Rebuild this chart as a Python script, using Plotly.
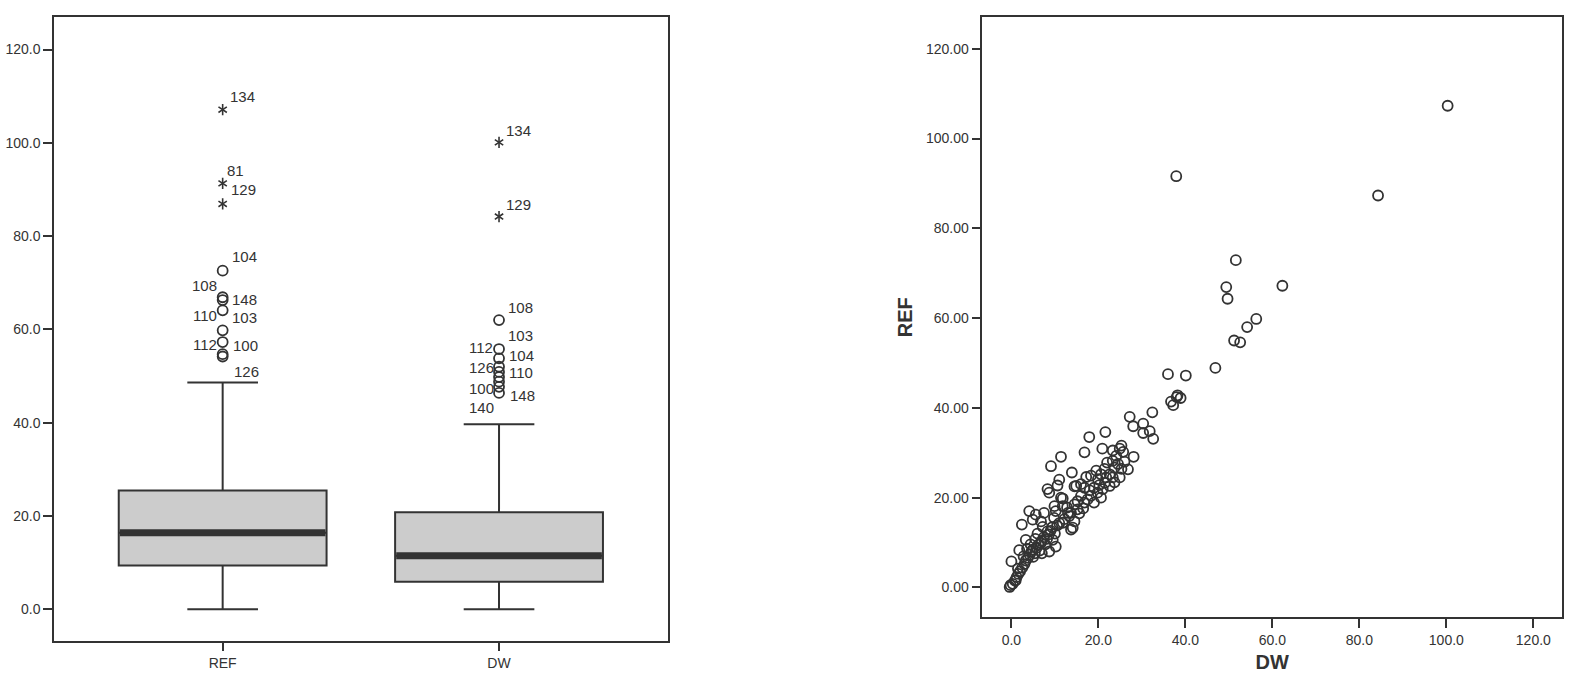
import plotly.graph_objects as go

# box plot summary
box_names = ["REF", "DW"]
box_q1 = [9.4, 5.9]
box_median = [16.4, 11.5]
box_q3 = [25.5, 20.8]
box_low = [0.0, 0.0]
box_high = [48.6, 39.7]

# outliers (circles) and extremes (stars) with case numbers
ref_out_vals = [72.6, 66.9, 66.3, 64.1, 59.8, 57.3, 54.7, 54.2]
ref_out_ids = ["104", "108", "148", "110", "103", "112", "100", "126"]
ref_ext_vals = [107.1, 91.3, 86.9]
ref_ext_ids = ["134", "81", "129"]
dw_out_vals = [62.0, 55.8, 53.8, 52.0, 50.9, 49.8, 48.8, 47.7, 46.4]
dw_out_ids = ["108", "103", "112", "104", "126", "110", "100", "148", "140"]
dw_ext_vals = [100.1, 84.2]
dw_ext_ids = ["134", "129"]

# scatter DW vs REF
dw_vals = [100.3, 84.3, 37.9, 51.6, 62.3, 49.4, 49.7, 56.3, 54.2, 51.2,
           52.6, 46.9, 36.0, 40.1, 38.2, 38.9, 36.7, 37.2, 38.0, 32.4,
           27.2, 28.0, 30.3, 30.3, 31.8, 32.6, 28.1, 21.6, 17.9, 16.8,
           20.9, 23.3, 25.3, 24.9, 25.7, 24.1, 23.3, 11.4, 9.1, 13.9,
           11.0, 10.6, 8.7, 11.8, 14.5, 16.0, 16.8, 18.3, 19.5, 20.6,
           19.9, 21.8, 21.4, 22.6, 23.3, 22.6, 23.7, 24.9, 25.3, 24.5,
           23.7, 19.0, 19.8, 18.3, 20.6, 19.0, 21.0, 16.0, 16.8, 15.2,
           14.5, 11.4, 11.8, 9.9, 8.3, 14.9, 10.2, 13.7, 15.2, 4.1,
           5.6, 7.5, 6.8, 4.9, 2.4, 3.3, 1.8, 0.0, 1.0, -0.2,
           -0.4, 8.3, 9.5, 10.2, 8.7, 13.7, 11.8, 14.5, 13.0, 14.1,
           13.3, 11.0, 7.0, 6.8, 4.9, 0.3, 0.8, 1.2, 1.6, 2.0,
           2.5, 3.0, 3.3, 3.8, 4.2, 4.6, 5.0, 5.4, 5.8, 6.2,
           6.5, 7.0, 7.5, 7.8, 8.2, 8.6, 9.0, 9.4, 10.0, 10.5,
           5.5, 6.0, 4.4, 3.6, 2.8, 1.5, 12.2, 12.8, 15.6, 16.5,
           17.5, 18.0, 21.5, 20.2, 22.0, 26.0, 26.8, 17.2, 9.8, 7.2]
ref_vals = [107.3, 87.3, 91.6, 72.9, 67.2, 66.9, 64.3, 59.8, 58.0, 55.0,
            54.6, 48.9, 47.5, 47.2, 42.8, 42.2, 41.4, 40.6, 42.4, 39.0,
            38.0, 35.9, 36.5, 34.4, 34.8, 33.1, 29.1, 34.6, 33.5, 30.1,
            30.9, 30.5, 31.6, 30.9, 30.2, 29.3, 28.2, 29.1, 27.0, 25.6,
            24.0, 22.7, 21.1, 19.8, 22.5, 23.0, 22.2, 24.9, 26.0, 25.2,
            24.1, 24.5, 26.4, 25.2, 24.5, 22.6, 23.4, 24.5, 26.4, 27.5,
            26.7, 22.2, 21.1, 20.4, 20.0, 18.9, 21.9, 20.4, 18.9, 19.2,
            18.5, 20.0, 18.1, 18.1, 21.9, 22.6, 17.0, 16.6, 17.4, 17.0,
            16.2, 16.6, 14.7, 15.1, 14.0, 10.6, 8.3, 5.8, 1.6, 0.5,
            0.1, 12.5, 10.6, 9.1, 8.0, 12.9, 14.4, 14.7, 16.6, 13.3,
            15.9, 14.3, 7.6, 9.9, 8.4, 0.8, 1.5, 2.3, 3.0, 3.6,
            4.4, 5.2, 6.0, 6.6, 7.3, 8.0, 6.8, 7.6, 8.8, 9.5,
            8.2, 10.4, 11.2, 9.6, 10.8, 11.8, 12.6, 13.4, 12.0, 13.8,
            10.8, 12.0, 9.6, 8.6, 6.9, 4.2, 15.2, 17.8, 16.5, 17.6,
            19.6, 21.6, 23.3, 22.8, 27.8, 28.0, 26.3, 24.6, 15.5, 13.5]

ink = "#333333"
font_name = "Liberation Sans, Arial, sans-serif"
box_w = 0.752

# label offsets in pixels (dx, dy up), as placed in the original
ref_out_off = [(22, 14), (-18, 12), (22, 1), (-18, -5), (22, 13), (-18, -2), (23, 9), (24, -15)]
ref_ext_off = [(20, 13), (13, 13), (21, 14)]
dw_out_off = [(21, 13), (21, 14), (-18, 11), (22, 11), (-18, 4), (22, 5), (-18, -7), (23, -9), (-18, -15)]
dw_ext_off = [(19, 12), (19, 12)]

fig = go.Figure()

for i, name in enumerate(box_names):
    fig.add_trace(go.Box(
        x=[i], q1=[box_q1[i]], median=[box_median[i]], q3=[box_q3[i]],
        lowerfence=[box_low[i]], upperfence=[box_high[i]],
        width=box_w, whiskerwidth=0.34, boxpoints=False,
        fillcolor="#cccccc", line=dict(color=ink, width=2),
        xaxis="x", yaxis="y", showlegend=False, hoverinfo="skip"))
    # thick median bar like SPSS
    fig.add_trace(go.Scatter(
        x=[i - box_w / 2 + 0.004, i + box_w / 2 - 0.004], y=[box_median[i]] * 2,
        mode="lines", line=dict(color=ink, width=7),
        xaxis="x", yaxis="y", showlegend=False, hoverinfo="skip"))

groups = [
    (0, ref_out_vals, ref_out_ids, ref_out_off, False),
    (0, ref_ext_vals, ref_ext_ids, ref_ext_off, True),
    (1, dw_out_vals, dw_out_ids, dw_out_off, False),
    (1, dw_ext_vals, dw_ext_ids, dw_ext_off, True),
]
for pos, vals, ids, offs, extreme in groups:
    xs = [pos] * len(vals)
    if extreme:
        for sym in ["y-up-open", "y-down-open"]:
            fig.add_trace(go.Scatter(
                x=xs, y=vals, mode="markers",
                marker=dict(symbol=sym, size=7, color=ink, line=dict(color=ink, width=1.6)),
                xaxis="x", yaxis="y", showlegend=False, hoverinfo="skip"))
    else:
        fig.add_trace(go.Scatter(
            x=xs, y=vals, mode="markers",
            marker=dict(symbol="circle-open", size=10, color=ink, line=dict(color=ink, width=1.8)),
            xaxis="x", yaxis="y", showlegend=False, hoverinfo="skip"))
    for v, t, (dx, dy) in zip(vals, ids, offs):
        fig.add_annotation(x=pos, y=v, xref="x", yref="y", text=t, showarrow=False,
                           xshift=dx, yshift=dy, font=dict(size=15, color=ink, family=font_name))

fig.add_trace(go.Scatter(
    x=dw_vals, y=ref_vals, mode="markers",
    marker=dict(symbol="circle-open", size=10, color=ink, line=dict(color=ink, width=1.8)),
    xaxis="x2", yaxis="y2", showlegend=False, hoverinfo="skip"))

axis_common = dict(showline=True, mirror=True, linecolor=ink, linewidth=1.5,
                   showgrid=False, zeroline=False, ticks="outside", ticklen=9,
                   tickwidth=1.5, tickcolor=ink,
                   tickfont=dict(size=14, color=ink, family=font_name))

fig.update_layout(
    width=1581, height=687,
    margin=dict(l=0, r=0, t=0, b=0),
    paper_bgcolor="white", plot_bgcolor="white",
    font=dict(family=font_name, color=ink),
    xaxis=dict(domain=[0.0342, 0.4228], range=[-0.61, 1.613],
               tickmode="array", tickvals=[0, 1], ticktext=box_names, **axis_common),
    yaxis=dict(domain=[0.0675, 0.9748], range=[-6.7, 126.9],
               tickmode="array", tickvals=[0, 20, 40, 60, 80, 100, 120],
               tickformat=".1f", **axis_common),
    xaxis2=dict(domain=[0.6213, 0.988], range=[-6.7, 126.6], anchor="y2",
                tickmode="array", tickvals=[0, 20, 40, 60, 80, 100, 120],
                tickformat=".1f",
                title=dict(text="<b>DW</b>", font=dict(size=20, color=ink, family=font_name), standoff=8),
                **axis_common),
    yaxis2=dict(domain=[0.1015, 0.9748], range=[-6.65, 127.0], anchor="x2",
                tickmode="array", tickvals=[0, 20, 40, 60, 80, 100, 120],
                tickformat=".2f",
                title=dict(text="<b>REF</b>", font=dict(size=20, color=ink, family=font_name), standoff=8),
                **axis_common),
)

fig.write_html("out.html", config={"displayModeBar": False},
               post_script="document.body.style.margin='0';document.body.style.overflow='hidden';")
